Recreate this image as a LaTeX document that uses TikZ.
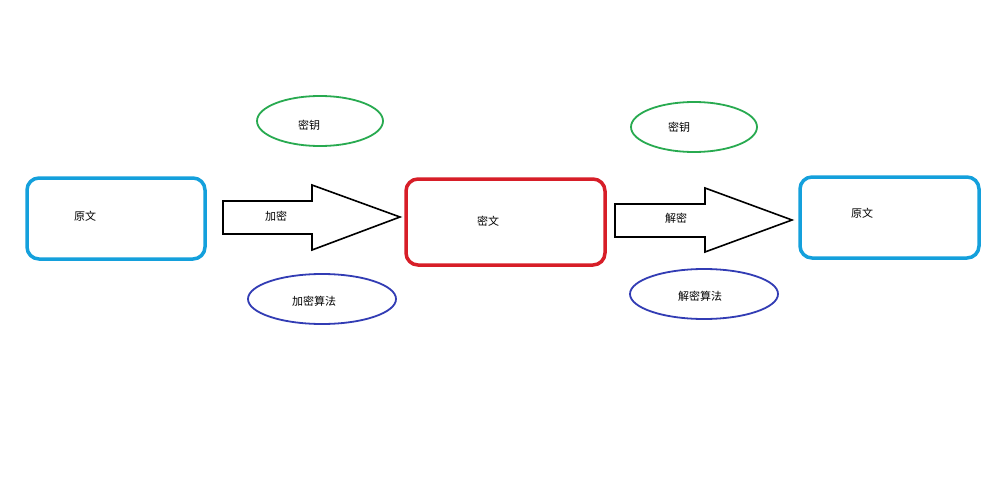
\documentclass[tikz,border=0pt]{standalone}
\usepackage{fontspec}
\setmainfont{Noto Sans CJK SC}
\usetikzlibrary{shapes.geometric}
\definecolor{cy}{RGB}{20,160,220}
\definecolor{rd}{RGB}{215,30,40}
\definecolor{gr}{RGB}{40,170,80}
\definecolor{bl}{RGB}{50,60,180}
\tikzset{
 box/.style={draw=#1,line width=3.5pt,rounded corners=12pt},
 ell/.style={draw=#1,line width=1.8pt},
 lbl/.style={font=\fontsize{11}{13}\selectfont},
 arr/.style={draw=black,line width=1.6pt,fill=white}
}
\begin{document}
\begin{tikzpicture}[x=1pt,y=-1pt]
\useasboundingbox[fill=white] (0,0) rectangle (1000,500);
\draw[box=cy] (27,178) rectangle (205,259);
\draw[box=rd] (406,179) rectangle (605,265);
\draw[box=cy] (800,177) rectangle (979,258);
\node[lbl] (a) at (85,216) {原文};
\node[lbl] (b) at (488,221) {密文};
\node[lbl] (c) at (862,213) {原文};
\draw[arr] (223,201) -- (312,201) -- (312,185) -- (400,217) -- (312,250) -- (312,234) -- (223,234) -- cycle;
\draw[arr] (615,204) -- (705,204) -- (705,188) -- (792,220) -- (705,252) -- (705,237) -- (615,237) -- cycle;
\node[lbl] (e1) at (276,216) {加密};
\node[lbl] (e2) at (676,218) {解密};
\draw[ell=gr] (320,121) ellipse [x radius=63,y radius=25];
\draw[ell=gr] (694,127) ellipse [x radius=63,y radius=25];
\draw[ell=bl] (322,299) ellipse [x radius=74,y radius=25];
\draw[ell=bl] (704,294) ellipse [x radius=74,y radius=25];
\node[lbl] (k1) at (309,125) {密钥};
\node[lbl] (k2) at (679,127) {密钥};
\node[lbl] (s1) at (314,301) {加密算法};
\node[lbl] (s2) at (700,296) {解密算法};
\end{tikzpicture}
\end{document}
